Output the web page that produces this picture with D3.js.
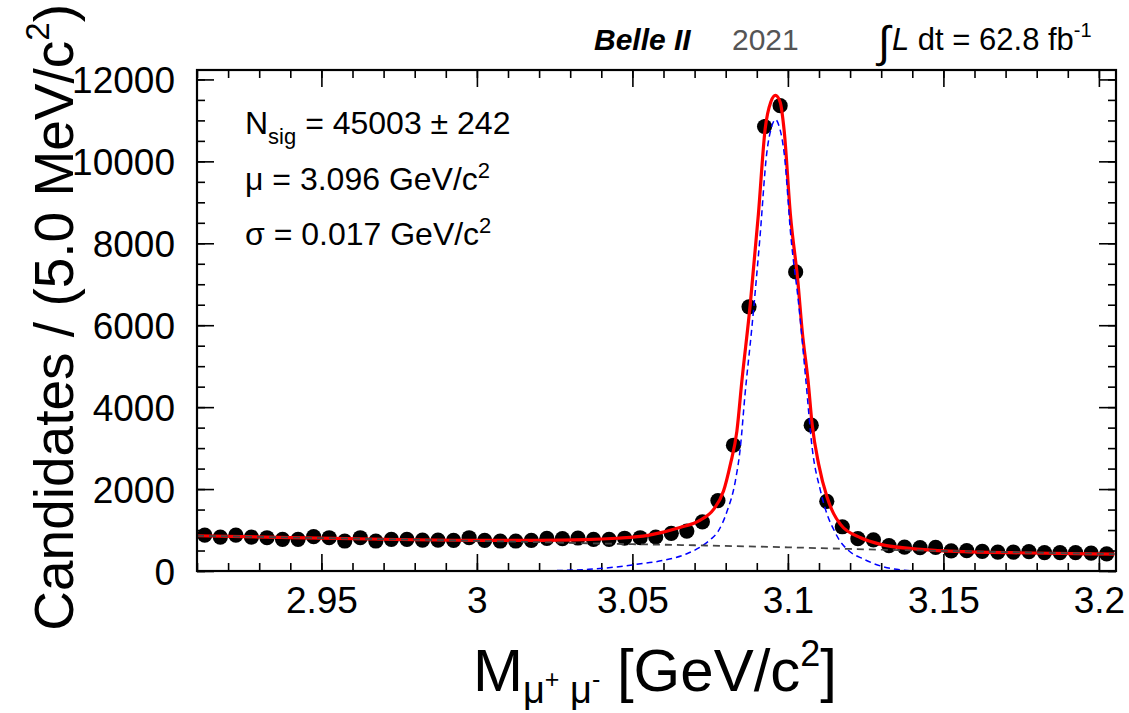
<!DOCTYPE html>
<html>
<head>
<meta charset="utf-8">
<script src="https://cdn.jsdelivr.net/npm/d3@7"></script>
<style>
  html, body { margin: 0; padding: 0; background: #fff; }
  svg { display: block; font-family: 'Liberation Sans', Arial, Helvetica, sans-serif; }
</style>
</head>
<body>
<svg id="chart" width="1129" height="713"></svg>
<script>
// bin centres [GeV/c^2], 5 MeV bins
const binCenters = [
  2.9125, 2.9175, 2.9225, 2.9275, 2.9325, 2.9375, 2.9425, 2.9475, 2.9525, 2.9575,
  2.9625, 2.9675, 2.9725, 2.9775, 2.9825, 2.9875, 2.9925, 2.9975, 3.0025, 3.0075,
  3.0125, 3.0175, 3.0225, 3.0275, 3.0325, 3.0375, 3.0425, 3.0475, 3.0525, 3.0575,
  3.0625, 3.0675, 3.0725, 3.0775, 3.0825, 3.0875, 3.0925, 3.0975, 3.1025, 3.1075,
  3.1125, 3.1175, 3.1225, 3.1275, 3.1325, 3.1375, 3.1425, 3.1475, 3.1525, 3.1575,
  3.1625, 3.1675, 3.1725, 3.1775, 3.1825, 3.1875, 3.1925, 3.1975, 3.2025,
];

// candidates per bin
const counts = [
  878, 829, 878, 829, 812, 773, 773, 837, 812, 732,
  812, 732, 773, 773, 756, 756, 749, 812, 749, 732,
  732, 749, 797, 790, 805, 773, 773, 800, 812, 830,
  920, 975, 1200, 1720, 3070, 6450, 10850, 11360, 7300, 3560,
  1700, 1080, 790, 760, 620, 585, 570, 575, 490, 495,
  480, 460, 460, 475, 450, 450, 450, 435, 420,
];

// fit curves: [mass, candidates]
const fitTotal = [
  [2.91, 860], [2.94, 815], [2.97, 775], [3.0, 750], [3.02, 750], [3.035, 765],
  [3.045, 800], [3.055, 870], [3.0653, 1060], [3.0718, 1240], [3.0761, 1505],
  [3.0793, 1951], [3.0815, 2602], [3.0836, 3415], [3.0852, 4634], [3.0879, 6512],
  [3.0905, 8700], [3.0927, 10800], [3.0945, 11450], [3.096, 11610], [3.0975, 11450],
  [3.0988, 10750], [3.1008, 8707], [3.1032, 7073], [3.1046, 5854], [3.1065, 4634],
  [3.1078, 3578], [3.1099, 2602], [3.1126, 1800], [3.1147, 1400], [3.1169, 1139],
  [3.1234, 812], [3.1298, 651], [3.1427, 529], [3.1567, 471], [3.1782, 440], [3.205, 410],
];

const fitSignal = [
  [3.0, 0], [3.02, 5], [3.029, 17], [3.036, 41], [3.045, 100], [3.051, 160],
  [3.06, 260], [3.0675, 420], [3.0715, 570], [3.075, 760], [3.0775, 960],
  [3.0804, 1450], [3.0831, 2195], [3.0847, 3007], [3.0862, 4300], [3.0884, 5930],
  [3.091, 8130], [3.0932, 10200], [3.0948, 10850], [3.096, 11020], [3.0972, 10850],
  [3.0988, 10200], [3.101, 8130], [3.1035, 6490], [3.1058, 4634], [3.1078, 3007],
  [3.1105, 1951], [3.1126, 1383], [3.1148, 1000], [3.1165, 760], [3.1195, 500],
  [3.1245, 285], [3.1298, 122], [3.135, 40], [3.1406, 5], [3.15, 0],
];

const fitBackground = [
  [2.91, 860], [2.96, 790], [3.0, 735], [3.05, 655], [3.07, 628], [3.1, 578],
  [3.13, 520], [3.16, 475], [3.205, 412],
];

const xMajorTicks = [2.95, 3, 3.05, 3.1, 3.15, 3.2];
const yMajorTicks = [0, 2000, 4000, 6000, 8000, 10000, 12000];

const svg = d3.select('#chart');
const frame = { left: 197, right: 1116, top: 70, bottom: 571 };
const plotW = frame.right - frame.left;
const plotH = frame.bottom - frame.top;

const xScale = d3.scaleLinear().domain([2.91, 3.2055]).range([0, plotW]);
const yScale = d3.scaleLinear().domain([0, 12230]).range([plotH, 0]);

const chart = svg.append('g').attr('transform', `translate(${frame.left},${frame.top})`);

const majorLen = 17;
const minorLen = 8;

// ticks on all four sides, pointing inward
function drawAxis(axisFn, scale, tr, majors, minors, labels) {
  const gMinor = chart
    .append('g')
    .attr('transform', tr)
    .call(axisFn(scale).tickValues(minors).tickSize(-minorLen).tickFormat(''));
  const gMajor = chart
    .append('g')
    .attr('transform', tr)
    .call(
      axisFn(scale)
        .tickValues(majors)
        .tickSize(-majorLen)
        .tickPadding(labels ? 14 : 0)
        .tickFormat(labels ? (d) => d3.format('')(+d.toFixed(2)) : ''),
    );
  [gMinor, gMajor].forEach((g) => {
    g.selectAll('.domain').remove();
    g.selectAll('.tick line').attr('stroke', '#000').attr('stroke-width', 1.6);
  });
  return gMajor;
}

const xMinor = xScale.ticks(30);
const yMinor = yScale.ticks(24);

const xAxisG = drawAxis(d3.axisBottom, xScale, `translate(0,${plotH})`, xMajorTicks, xMinor, true);
drawAxis(d3.axisTop, xScale, 'translate(0,0)', xMajorTicks, xMinor, false);
const yAxisG = drawAxis(d3.axisLeft, yScale, 'translate(0,0)', yMajorTicks, yMinor, true);
drawAxis(d3.axisRight, yScale, `translate(${plotW},0)`, yMajorTicks, yMinor, false);

xAxisG
  .selectAll('.tick text')
  .attr('font-size', 37)
  .attr('font-family', "'Liberation Sans', Arial, sans-serif")
  .attr('fill', '#000')
  .attr('dy', '0.75em');

yAxisG
  .selectAll('.tick text')
  .attr('font-size', 37)
  .attr('font-family', "'Liberation Sans', Arial, sans-serif")
  .attr('fill', '#000')
  .attr('x', -22)
  .attr('dy', '0.36em');

// data points
chart
  .append('g')
  .selectAll('circle')
  .data(binCenters)
  .join('circle')
  .attr('cx', (d) => xScale(d))
  .attr('cy', (d, i) => yScale(counts[i]))
  .attr('r', 7.6)
  .attr('fill', '#000');

const line = d3
  .line()
  .x((d) => xScale(d[0]))
  .y((d) => yScale(d[1]))
  .curve(d3.curveMonotoneX);

chart
  .append('path')
  .datum(fitTotal)
  .attr('d', line)
  .attr('fill', 'none')
  .attr('stroke', '#ff0000')
  .attr('stroke-width', 3.2);

chart
  .append('path')
  .datum(fitSignal)
  .attr('d', line)
  .attr('fill', 'none')
  .attr('stroke', '#0000ff')
  .attr('stroke-width', 1.5)
  .attr('stroke-dasharray', '6,4');

chart
  .append('path')
  .datum(fitBackground)
  .attr('d', line)
  .attr('fill', 'none')
  .attr('stroke', '#444')
  .attr('stroke-width', 1.8)
  .attr('stroke-dasharray', '7,5');

// frame
chart
  .append('rect')
  .attr('width', plotW)
  .attr('height', plotH)
  .attr('fill', 'none')
  .attr('stroke', '#000')
  .attr('stroke-width', 2.2);

// rich text helper: parts = [{t, dy, size, style, weight, fill}]
function richText(parent, x, y, parts, opts = {}) {
  const text = parent
    .append('text')
    .attr('x', x)
    .attr('y', y)
    .attr('font-size', opts.size || 30)
    .attr('text-anchor', opts.anchor || 'start')
    .attr('fill', opts.fill || '#000');
  if (opts.transform) text.attr('transform', opts.transform);
  parts.forEach((p) => {
    const ts = text.append('tspan').text(p.t);
    if (p.dy) ts.attr('dy', p.dy);
    if (p.size) ts.attr('font-size', p.size);
    if (p.style) ts.attr('font-style', p.style);
    if (p.weight) ts.attr('font-weight', p.weight);
    if (p.fill) ts.attr('fill', p.fill);
  });
  return text;
}

// fit results
richText(svg, 245, 134, [
  { t: 'N' },
  { t: 'sig', size: 22, dy: 10 },
  { t: ' = 45003 ± 242', dy: -10 },
], { size: 32 });
richText(svg, 245, 190, [
  { t: 'μ = 3.096 GeV/c' },
  { t: '2', size: 22, dy: -12 },
], { size: 32 });
richText(svg, 245, 245, [
  { t: 'σ = 0.017 GeV/c' },
  { t: '2', size: 22, dy: -12 },
], { size: 32 });

// header
richText(svg, 594, 50, [{ t: 'Belle II', style: 'italic', weight: 'bold' }], { size: 30 });
richText(svg, 732, 50, [{ t: '2021' }], { size: 30, fill: '#555' });
richText(svg, 878, 57, [{ t: '∫', size: 44 }], { size: 30 });
richText(svg, 892, 50, [
  { t: 'L', style: 'italic' },
  { t: ' dt = 62.8 fb' },
  { t: '-1', size: 20, dy: -13 },
], { size: 31 });

// axis titles
richText(svg, 655, 691, [
  { t: 'M' },
  { t: 'μ', size: 38, dy: 12 },
  { t: '+', size: 25, dy: -15 },
  { t: ' μ', size: 38, dy: 15 },
  { t: '-', size: 25, dy: -15 },
  { t: ' [GeV/c', dy: 3 },
  { t: '2', size: 36, dy: -25 },
  { t: ']', dy: 25 },
], { size: 60, anchor: 'middle' });

richText(svg, 0, 0, [
  { t: 'Candidates / (5.0 MeV/c' },
  { t: '2', size: 33, dy: -24 },
  { t: ')', dy: 24 },
], { size: 55, anchor: 'end', transform: 'translate(73,4) rotate(-90)' });
</script>
</body>
</html>
